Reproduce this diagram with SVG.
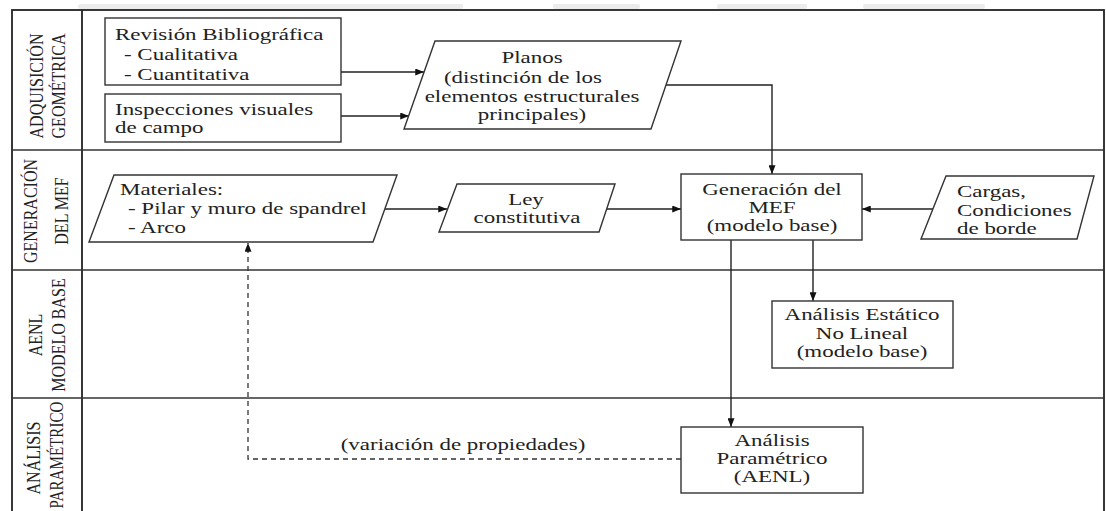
<svg xmlns="http://www.w3.org/2000/svg" width="1106" height="511" viewBox="0 0 1106 511">
<defs>
<style>
.lane{fill:none;stroke:#222;stroke-width:1.8}
.div{fill:none;stroke:#333;stroke-width:1.5}
.box{fill:#fff;stroke:#333;stroke-width:1.4}
.t{font-family:"Liberation Serif","Times New Roman",serif;font-size:17px;fill:#222}
.c{text-anchor:middle}
.lbl{font-family:"Liberation Serif","Times New Roman",serif;font-size:18px;fill:#222;text-anchor:middle}
.ln{fill:none;stroke:#222;stroke-width:1.4}
.dash{fill:none;stroke:#333;stroke-width:1.3;stroke-dasharray:5,4}
.wm{fill:#ececec}
</style>
<marker id="ah" viewBox="0 0 10 8" refX="10" refY="4" markerWidth="9" markerHeight="7" markerUnits="userSpaceOnUse" orient="auto">
<path d="M0,0 L10,4 L0,8 z" fill="#111"/>
</marker>
</defs>
<rect width="1106" height="511" fill="#fff"/>
<g id="watermark">
<rect class="wm" x="78" y="4" width="385" height="5" rx="2"/>
<rect class="wm" x="553" y="4" width="87" height="5" rx="2"/>
<rect class="wm" x="717" y="4" width="90" height="5" rx="2"/>
<rect class="wm" x="863" y="4" width="122" height="5" rx="2"/>
</g>
<g id="lanes">
<rect class="lane" x="12" y="10" width="1092" height="530"/>
<line class="lane" x1="82" y1="10" x2="82" y2="540"/>
<line class="div" x1="12" y1="150" x2="1104" y2="150"/>
<line class="div" x1="12" y1="270" x2="1104" y2="270"/>
<line class="div" x1="12" y1="398" x2="1104" y2="398"/>
<text class="lbl" transform="translate(43,86) rotate(-90) scale(0.89,1)">ADQUISICIÓN</text>
<text class="lbl" transform="translate(65,86) rotate(-90) scale(0.89,1)">GEOMÉTRICA</text>
<text class="lbl" transform="translate(37,211) rotate(-90) scale(0.89,1)">GENERACIÓN</text>
<text class="lbl" transform="translate(68,211) rotate(-90) scale(0.89,1)">DEL MEF</text>
<text class="lbl" transform="translate(42,335) rotate(-90) scale(0.89,1)">AENL</text>
<text class="lbl" transform="translate(65,335) rotate(-90) scale(0.89,1)">MODELO BASE</text>
<text class="lbl" transform="translate(40,458) rotate(-90) scale(0.89,1)">ANÁLISIS</text>
<text class="lbl" transform="translate(63,455) rotate(-90) scale(0.84,1)">PARAMÉTRICO</text>
</g>
<g id="connectors">
<path class="ln" d="M341,72 H424" marker-end="url(#ah)"/>
<path class="ln" d="M341,116 H409" marker-end="url(#ah)"/>
<path class="ln" d="M666,85 H772 V174" marker-end="url(#ah)"/>
<path class="ln" d="M385,209 H447" marker-end="url(#ah)"/>
<path class="ln" d="M607,209 H681" marker-end="url(#ah)"/>
<path class="ln" d="M933,209 H862" marker-end="url(#ah)"/>
<path class="ln" d="M731,240 V427" marker-end="url(#ah)"/>
<path class="ln" d="M813,240 V301" marker-end="url(#ah)"/>
<path class="dash" d="M681,459 H248 V243" marker-end="url(#ah)"/>
<text class="t c" transform="translate(463,0) scale(1.35,1)" y="450">(variación de propiedades)</text>
</g>
<g id="revision">
<rect class="box" x="105" y="18" width="236" height="67"/>
<text class="t" transform="translate(115,0) scale(1.35,1)" y="40">Revisión Bibliográfica</text>
<text class="t" transform="translate(124,0) scale(1.35,1)" y="60">- Cualitativa</text>
<text class="t" transform="translate(124,0) scale(1.35,1)" y="80">- Cuantitativa</text>
</g>
<g id="inspecciones">
<rect class="box" x="105" y="94" width="236" height="48"/>
<text class="t" transform="translate(115,0) scale(1.35,1)" y="115">Inspecciones visuales</text>
<text class="t" transform="translate(115,0) scale(1.35,1)" y="133">de campo</text>
</g>
<g id="planos">
<polygon class="box" points="435,41 681,41 651,129 404,129"/>
<text class="t c" transform="translate(532,0) scale(1.35,1)" y="63">Planos</text>
<text class="t c" transform="translate(523,0) scale(1.35,1)" y="83">(distinción de los</text>
<text class="t c" transform="translate(532,0) scale(1.35,1)" y="102">elementos estructurales</text>
<text class="t c" transform="translate(532,0) scale(1.35,1)" y="120">principales)</text>
</g>
<g id="materiales">
<polygon class="box" points="114,175 397,175 373,242 89,242"/>
<text class="t" transform="translate(120,0) scale(1.35,1)" y="195">Materiales:</text>
<text class="t" transform="translate(128,0) scale(1.35,1)" y="214">- Pilar y muro de spandrel</text>
<text class="t" transform="translate(128,0) scale(1.35,1)" y="233">- Arco</text>
</g>
<g id="ley">
<polygon class="box" points="457,184 615,184 599,232 439,232"/>
<text class="t c" transform="translate(526,0) scale(1.35,1)" y="205">Ley</text>
<text class="t c" transform="translate(527,0) scale(1.35,1)" y="223">constitutiva</text>
</g>
<g id="generacion">
<rect class="box" x="681" y="174" width="181" height="66"/>
<text class="t c" transform="translate(772,0) scale(1.35,1)" y="195">Generación del</text>
<text class="t c" transform="translate(772,0) scale(1.35,1)" y="213">MEF</text>
<text class="t c" transform="translate(772,0) scale(1.35,1)" y="231">(modelo base)</text>
</g>
<g id="cargas">
<polygon class="box" points="946,176 1094,176 1077,239 921,239"/>
<text class="t" transform="translate(957,0) scale(1.35,1)" y="197">Cargas,</text>
<text class="t" transform="translate(957,0) scale(1.35,1)" y="216">Condiciones</text>
<text class="t" transform="translate(957,0) scale(1.35,1)" y="234">de borde</text>
</g>
<g id="estatico">
<rect class="box" x="772" y="301" width="181" height="67"/>
<text class="t c" transform="translate(862,0) scale(1.35,1)" y="320">Análisis Estático</text>
<text class="t c" transform="translate(862,0) scale(1.35,1)" y="339">No Lineal</text>
<text class="t c" transform="translate(862,0) scale(1.35,1)" y="357">(modelo base)</text>
</g>
<g id="parametrico">
<rect class="box" x="681" y="427" width="182" height="66"/>
<text class="t c" transform="translate(772,0) scale(1.35,1)" y="446">Análisis</text>
<text class="t c" transform="translate(772,0) scale(1.35,1)" y="464">Paramétrico</text>
<text class="t c" transform="translate(772,0) scale(1.35,1)" y="482">(AENL)</text>
</g>
</svg>
